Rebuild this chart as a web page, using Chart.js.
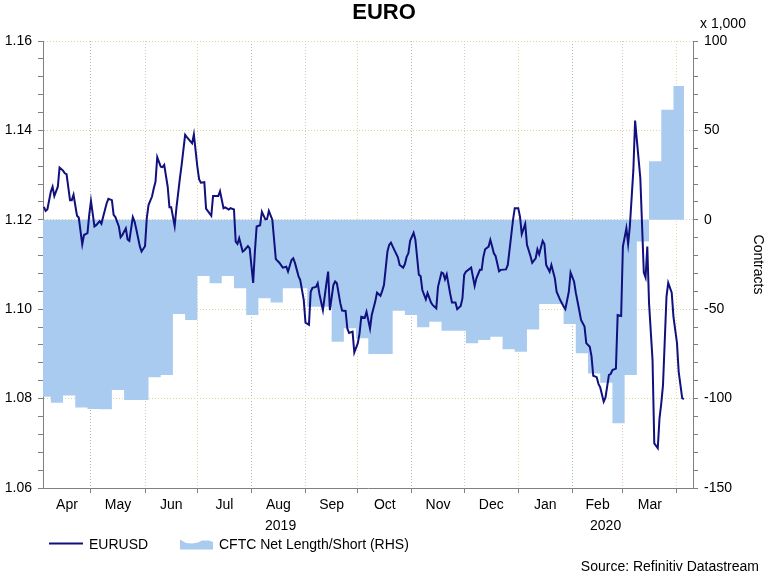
<!DOCTYPE html>
<html>
<head>
<meta charset="utf-8">
<title>EURO</title>
<script src="https://cdn.jsdelivr.net/npm/chart.js@4.4.1/dist/chart.umd.min.js"></script>
<style>
    html, body { margin: 0; padding: 0; background: #fff; }
    #wrap { width: 768px; height: 577px; }
</style>
</head>
<body>
<div id="wrap"><canvas id="euroChart"></canvas></div>
<script>
// all x values are days since 2019-04-01
const monthLabels = ['Apr', 'May', 'Jun', 'Jul', 'Aug', 'Sep', 'Oct', 'Nov', 'Dec', 'Jan', 'Feb', 'Mar'];
const monthStarts = [30, 61, 91, 122, 153, 183, 214, 244, 275, 306, 335, 366];
const yearLabels = ['2019', '2020'];
const yearBreak = 275; // 2020-01-01

const leftTicks = [1.06, 1.08, 1.10, 1.12, 1.14, 1.16];
const rightTicks = [-150, -100, -50, 0, 50, 100];

// EURUSD (daily)
const eurDays = [
    3, 4, 5, 7, 8, 9, 11, 12, 14, 15, 16, 18, 19, 20, 22, 23, 25, 26, 28, 29,
    30, 32, 33, 35, 36, 37, 39, 40, 42, 43, 44, 46, 47, 48, 50, 51, 52, 54, 55, 56,
    58, 59, 61, 62, 63, 65, 66, 67, 68, 70, 71, 72, 74, 75, 76, 78, 79, 81, 82, 84,
    85, 88, 89, 91, 92, 93, 95, 96, 99, 100, 102, 103, 104, 106, 107, 109, 110, 112, 113, 114,
    115, 117, 118, 120, 121, 123, 124, 125, 127, 128, 130, 131, 132, 134, 135, 136, 138, 140, 142, 143,
    145, 146, 147, 149, 150, 152, 153, 155, 156, 157, 159, 160, 161, 163, 165, 166, 167, 169, 170, 171,
    173, 174, 176, 177, 178, 180, 181, 183, 184, 185, 187, 188, 190, 191, 193, 194, 196, 197, 198, 200,
    201, 202, 204, 206, 207, 209, 210, 211, 212, 213, 215, 216, 218, 219, 220, 222, 223, 225, 226, 228,
    229, 231, 232, 233, 234, 236, 237, 239, 240, 242, 243, 244, 245, 248, 250, 251, 253, 254, 255, 256,
    258, 259, 260, 261, 262, 264, 265, 268, 269, 271, 272, 273, 275, 276, 277, 279, 280, 282, 283, 285,
    286, 287, 289, 290, 291, 293, 294, 296, 297, 299, 301, 302, 304, 305, 307, 308, 310, 311, 313, 314,
    316, 317, 318, 320, 321, 322, 324, 325, 327, 328, 329, 331, 332, 334, 335, 337, 338, 339, 341, 342,
    343, 345, 347, 348, 349, 350, 352, 353, 355, 356, 357, 358, 360, 361, 363, 364, 366, 367, 369, 370
];
const eurValues = [
    1.1229, 1.1220, 1.1223, 1.1263, 1.1274, 1.1253, 1.1274, 1.1317, 1.1310, 1.1304, 1.1302, 1.1244, 1.1244, 1.1256, 1.1209, 1.1205, 1.1145, 1.1166, 1.1170, 1.1211,
    1.1242, 1.1185, 1.1188, 1.1197, 1.1191, 1.1207, 1.1237, 1.1247, 1.1244, 1.1211, 1.1206, 1.1185, 1.1161, 1.1166, 1.1181, 1.1156, 1.1153, 1.1206, 1.1196, 1.1179,
    1.1141, 1.1129, 1.1141, 1.1203, 1.1233, 1.1252, 1.1270, 1.1285, 1.1340, 1.1319, 1.1318, 1.1323, 1.1274, 1.1228, 1.1228, 1.1186, 1.1226, 1.1293, 1.1323, 1.1390,
    1.1385, 1.1371, 1.1391, 1.1319, 1.1291, 1.1283, 1.1284, 1.1225, 1.1209, 1.1253, 1.1253, 1.1253, 1.1264, 1.1226, 1.1228, 1.1223, 1.1226, 1.1223, 1.1151, 1.1146,
    1.1159, 1.1129, 1.1132, 1.1141, 1.1136, 1.1059, 1.1129, 1.1185, 1.1188, 1.1218, 1.1201, 1.1202, 1.1220, 1.1200, 1.1156, 1.1112, 1.1104, 1.1093, 1.1095, 1.1084,
    1.1110, 1.1114, 1.1103, 1.1074, 1.1065, 1.1021, 1.0970, 1.0965, 1.1039, 1.1048, 1.1050, 1.1058, 1.1034, 1.0998, 1.1058, 1.1084, 1.0998, 1.1054, 1.1062, 1.1058,
    1.1013, 1.0997, 1.0996, 1.0957, 1.0947, 1.0950, 1.0903, 1.0924, 1.0946, 1.0983, 1.0981, 1.0994, 1.0957, 1.0987, 1.1017, 1.1037, 1.1030, 1.1041, 1.1054, 1.1129,
    1.1144, 1.1149, 1.1132, 1.1116, 1.1099, 1.1093, 1.1101, 1.1117, 1.1125, 1.1153, 1.1171, 1.1156, 1.1077, 1.1074, 1.1043, 1.1022, 1.1036, 1.1015, 1.1009, 1.1002,
    1.1050, 1.1082, 1.1080, 1.1067, 1.1078, 1.1034, 1.1015, 1.1015, 1.1000, 1.1007, 1.1024, 1.1077, 1.1084, 1.1093, 1.1052, 1.1069, 1.1088, 1.1088, 1.1117, 1.1134,
    1.1140, 1.1155, 1.1141, 1.1125, 1.1119, 1.1085, 1.1088, 1.1089, 1.1099, 1.1166, 1.1200, 1.1226, 1.1226, 1.1207, 1.1168, 1.1191, 1.1144, 1.1119, 1.1104, 1.1114,
    1.1134, 1.1123, 1.1153, 1.1146, 1.1099, 1.1084, 1.1099, 1.1069, 1.1039, 1.1021, 1.1006, 1.1000, 1.1039, 1.1082, 1.1062, 1.1037, 1.0997, 1.0976, 1.0961, 1.0924,
    1.0916, 1.0895, 1.0851, 1.0848, 1.0833, 1.0825, 1.0793, 1.0802, 1.0853, 1.0855, 1.0864, 1.0867, 1.0987, 1.0985, 1.1140, 1.1181, 1.1146, 1.1186, 1.1311, 1.1422,
    1.1379, 1.1293, 1.1082, 1.1071, 1.1140, 1.1013, 1.0886, 1.0700, 1.0689, 1.0756, 1.0789, 1.0830, 1.1028, 1.1059, 1.1037, 1.0983, 1.0925, 1.0860, 1.0801, 1.0799
];

// CFTC net length/short, weekly, thousands of contracts
const cftcDays = [
    0, 7, 14, 21, 28, 35, 42, 49, 56, 63, 70, 77, 84, 91, 98, 105, 112, 119,
    126, 133, 140, 147, 154, 161, 168, 175, 182, 189, 196, 203, 210, 217, 224, 231,
    238, 245, 252, 259, 266, 273, 280, 287, 294, 301, 308, 315, 322, 329, 336, 343,
    350, 357, 364, 370
];
const cftcValues = [
    -98.9, -102.3, -98.2, -105.0, -105.8, -106.0, -95.2, -100.8, -100.8, -88.1, -86.8, -52.7, -56.0, -31.4, -35.5, -31.4, -38.3, -53.2,
    -43.9, -46.3, -38.3, -38.3, -48.6, -48.6, -68.2, -60.7, -66.3, -75.1, -75.1, -50.8, -53.2, -60.1, -57.0, -62.0,
    -62.0, -69.1, -67.2, -65.4, -72.4, -73.8, -61.3, -47.1, -47.1, -58.3, -74.7, -85.9, -91.1, -113.8, -86.8, -12.2,
    32.7, 61.6, 74.8, 74.8
];

const X_MIN = 2.5;
const X_MAX = 375.2;
const FONT = "'Liberation Sans', Arial, sans-serif";
const NAVY = '#10107f';
const AREA = '#aacbf0';
const AXIS_GREY = '#808080';
const vGridColours = ['#a4c6a4', '#e2c4cc', '#e2da9c'];

Chart.defaults.font.family = FONT;
Chart.defaults.font.size = 14;
Chart.defaults.color = '#000';

document.addEventListener('DOMContentLoaded', function () {
    createEuroChart();
});

// minor ticks split each labelled step in five
function withMinorTicks(major) {
    const out = [];
    for (let i = 0; i < major.length - 1; i++) {
        const step = (major[i + 1] - major[i]) / 5;
        for (let j = 0; j < 5; j++) {
            out.push({ value: Math.round((major[i] + j * step) * 10000) / 10000, major: j === 0 });
        }
    }
    out.push({ value: major[major.length - 1], major: true });
    return out;
}

// texts and legend drawn outside the plot area
const extraText = {
    id: 'extraText',
    afterDraw(chart) {
        const ctx = chart.ctx;
        const xs = chart.scales.x;
        const area = chart.chartArea;
        ctx.save();
        ctx.fillStyle = '#000';
        ctx.font = '14px ' + FONT;
        ctx.textBaseline = 'middle';

        ctx.textAlign = 'center';
        const bounds = [X_MIN, yearBreak, X_MAX];
        yearLabels.forEach((yr, i) => {
            ctx.fillText(yr, xs.getPixelForValue((bounds[i] + bounds[i + 1]) / 2), 526);
        });

        ctx.textAlign = 'left';
        ctx.fillText('x 1,000', area.right + 7, 24);

        // legend
        const ly = 545;
        ctx.strokeStyle = NAVY;
        ctx.lineWidth = 2;
        ctx.beginPath();
        ctx.moveTo(49, ly - 1.5);
        ctx.lineTo(83, ly - 1.5);
        ctx.stroke();
        ctx.fillText('EURUSD', 89, ly);

        ctx.fillStyle = AREA;
        ctx.beginPath();
        ctx.moveTo(180, 539.5);
        ctx.lineTo(186, 543);
        ctx.lineTo(192, 543.5);
        ctx.lineTo(198, 542.5);
        ctx.lineTo(202, 540.5);
        ctx.lineTo(209, 540.5);
        ctx.lineTo(213, 542);
        ctx.lineTo(213, 549.5);
        ctx.lineTo(180, 549.5);
        ctx.closePath();
        ctx.fill();
        ctx.fillStyle = '#000';
        ctx.fillText('CFTC Net Length/Short (RHS)', 219, ly);

        ctx.textAlign = 'right';
        ctx.fillText('Source: Refinitiv Datastream', 759, 567);
        ctx.restore();
    }
};

function createEuroChart() {
    const ctx = document.getElementById('euroChart').getContext('2d');
    const monthBounds = [X_MIN].concat(monthStarts);
    new Chart(ctx, {
        type: 'line',
        data: {
            datasets: [
                {
                    label: 'EURUSD',
                    data: eurDays.map((d, i) => ({ x: d, y: eurValues[i] })),
                    borderColor: NAVY,
                    borderWidth: 2,
                    pointRadius: 0,
                    tension: 0,
                    fill: false,
                    xAxisID: 'x',
                    yAxisID: 'y'
                },
                {
                    label: 'CFTC Net Length/Short (RHS)',
                    data: cftcDays.map((d, i) => ({ x: d, y: cftcValues[i] })),
                    backgroundColor: AREA,
                    borderWidth: 0,
                    pointRadius: 0,
                    stepped: true,
                    fill: { value: 0 },
                    xAxisID: 'x',
                    yAxisID: 'y2'
                }
            ]
        },
        options: {
            responsive: true,
            maintainAspectRatio: false,
            animation: false,
            layout: { padding: { left: 0, right: 0, top: 0, bottom: 62 } },
            plugins: {
                legend: { display: false },
                tooltip: { enabled: false },
                title: {
                    display: true,
                    text: 'EURO',
                    color: '#000',
                    font: { size: 22, weight: 'bold' },
                    padding: { top: 0, bottom: 14.6 }
                }
            },
            scales: {
                x: {
                    type: 'linear',
                    position: 'bottom',
                    weight: 0,
                    min: X_MIN,
                    max: X_MAX,
                    afterBuildTicks: (scale) => {
                        scale.ticks = monthStarts.map(v => ({ value: v }));
                    },
                    afterFit: (scale) => { scale.height = 5; },
                    ticks: { display: false },
                    grid: {
                        color: (c) => vGridColours[c.index % vGridColours.length],
                        tickColor: AXIS_GREY,
                        tickLength: 5
                    },
                    border: { color: AXIS_GREY, dash: [1, 2] }
                },
                xm: {
                    type: 'linear',
                    axis: 'x',
                    position: 'bottom',
                    weight: 1,
                    min: X_MIN,
                    max: X_MAX,
                    afterBuildTicks: (scale) => {
                        scale.ticks = monthLabels.map((m, i) => ({ value: (monthBounds[i] + monthBounds[i + 1]) / 2 }));
                    },
                    afterFit: (scale) => { scale.height = 22; },
                    ticks: {
                        autoSkip: false,
                        maxRotation: 0,
                        padding: -4.4,
                        callback: (value, index) => monthLabels[index]
                    },
                    grid: { display: false },
                    border: { display: false }
                },
                y: {
                    type: 'linear',
                    position: 'left',
                    min: leftTicks[0],
                    max: leftTicks[leftTicks.length - 1],
                    afterBuildTicks: (scale) => { scale.ticks = withMinorTicks(leftTicks); },
                    afterFit: (scale) => { scale.width = 43; },
                    ticks: {
                        autoSkip: false,
                        padding: 6,
                        callback: function (value, index, ticks) {
                            return ticks[index].major ? value.toFixed(2) : '';
                        }
                    },
                    grid: {
                        color: (c) => (c.tick && c.tick.major && c.index > 0) ? '#d6d898' : 'rgba(0,0,0,0)',
                        tickColor: AXIS_GREY,
                        tickLength: 5
                    },
                    border: { color: AXIS_GREY, dash: [1, 2] }
                },
                y2: {
                    type: 'linear',
                    position: 'right',
                    min: rightTicks[0],
                    max: rightTicks[rightTicks.length - 1],
                    afterBuildTicks: (scale) => { scale.ticks = withMinorTicks(rightTicks); },
                    afterFit: (scale) => { scale.width = 75; },
                    ticks: {
                        autoSkip: false,
                        padding: 6,
                        callback: function (value, index, ticks) {
                            return ticks[index].major ? String(value) : '';
                        }
                    },
                    title: {
                        display: true,
                        text: 'Contracts',
                        color: '#000',
                        font: { size: 14 },
                        padding: { top: 2, bottom: 0 }
                    },
                    grid: {
                        drawOnChartArea: false,
                        tickColor: AXIS_GREY,
                        tickLength: 5
                    },
                    border: { color: AXIS_GREY }
                }
            }
        },
        plugins: [extraText]
    });
}
</script>
</body>
</html>
